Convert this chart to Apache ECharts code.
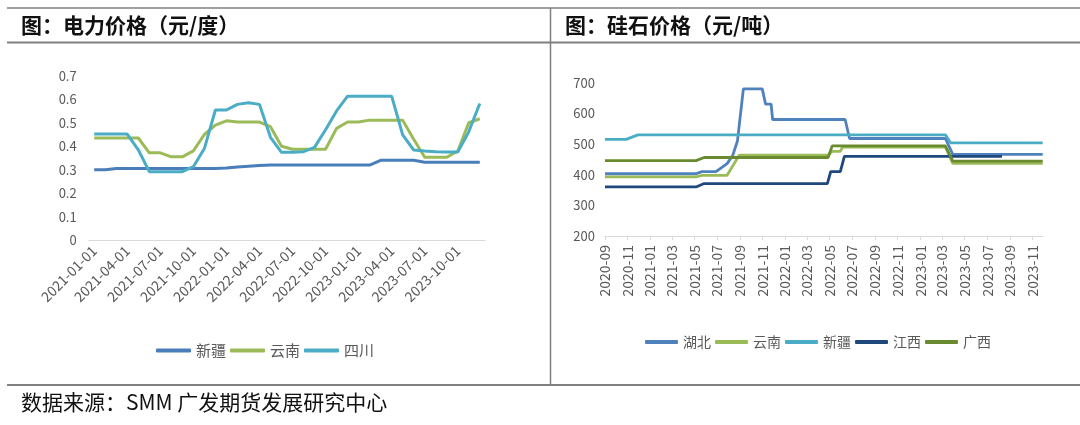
<!DOCTYPE html>
<html><head><meta charset="utf-8">
<script src="https://cdn.jsdelivr.net/npm/echarts@6/dist/echarts.min.js"></script>
<style>html,body{margin:0;padding:0;background:#fff}#c{width:1080px;height:425px}</style>
</head><body><div id="c"></div>
<script>
// ---------- Left chart: 电力价格（元/度）, monthly 2021-01 .. 2023-12 ----------
const elecMonths = [];
for (let y = 2021; y <= 2023; y++) for (let m = 1; m <= 12; m++) elecMonths.push(y + '-' + String(m).padStart(2, '0') + '-01');
const elecXinjiang = [0.300,0.300,0.305,0.305,0.305,0.305,0.305,0.305,0.305,0.305,0.305,0.305,0.307,0.312,0.315,0.318,0.320,0.320,0.320,0.320,0.320,0.320,0.320,0.320,0.320,0.320,0.340,0.340,0.340,0.340,0.332,0.332,0.332,0.332,0.332,0.332];
const elecYunnan   = [0.435,0.435,0.435,0.435,0.435,0.372,0.372,0.355,0.355,0.380,0.450,0.490,0.508,0.503,0.503,0.503,0.483,0.400,0.387,0.387,0.387,0.387,0.476,0.503,0.503,0.511,0.511,0.511,0.511,0.430,0.353,0.353,0.353,0.380,0.500,0.517];
const elecSichuan  = [0.452,0.452,0.452,0.452,0.385,0.292,0.292,0.292,0.292,0.313,0.390,0.554,0.554,0.578,0.585,0.578,0.438,0.374,0.374,0.377,0.395,0.470,0.550,0.613,0.613,0.613,0.613,0.613,0.448,0.384,0.380,0.377,0.376,0.375,0.462,0.582];

// ---------- Right chart: 硅石价格（元/吨）, change points ----------
const silicaHubei = [['2020-09-01',403],['2021-05-05',403],['2021-05-21',410],['2021-06-28',410],['2021-07-28',436],['2021-08-12',462],['2021-08-25',510],['2021-09-10',680],['2021-10-31',680],['2021-11-09',630],['2021-11-24',630],['2021-11-28',580],['2022-06-12',580],['2022-06-24',518],['2023-03-10',518],['2023-03-30',466],['2023-11-28',466]];
const silicaYunnan = [['2020-09-01',393],['2021-05-05',393],['2021-05-21',398],['2021-07-28',398],['2021-08-30',464],['2022-04-27',464],['2022-05-08',476],['2022-05-30',476],['2022-06-05',490],['2023-03-10',490],['2023-03-30',437],['2023-11-28',437]];
const silicaXinjiang = [['2020-09-01',515],['2020-10-28',515],['2020-11-29',530],['2023-03-10',530],['2023-03-24',504],['2023-11-28',504]];
const silicaJiangxi = [['2020-09-01',360],['2021-05-05',360],['2021-05-27',371],['2022-04-25',371],['2022-05-04',410],['2022-05-30',410],['2022-06-10',460],['2023-08-10',460]];
const silicaGuangxi = [['2020-09-01',446],['2021-05-05',446],['2021-05-27',456],['2022-04-27',456],['2022-05-08',494],['2023-03-10',494],['2023-03-30',444],['2023-11-28',444]];

const FONT = '"Noto Sans CJK SC", "Noto Sans", sans-serif';
const GRAY = '#595959';
const AXISC = '#d9d9d9';

const chart = echarts.init(document.getElementById('c'), null, {renderer: 'canvas'});

function hline(x1, x2, y, w) {
  return {type: 'line', shape: {x1: x1, y1: y, x2: x2, y2: y}, style: {stroke: '#808080', lineWidth: w}, silent: true};
}
function label(x, y, text, size) {
  return {type: 'text', left: x, top: y, style: {text: text, fontSize: size, fontWeight: 'bold', fontFamily: FONT, fill: '#111'}, silent: true};
}

const DAY = 86400000;

chart.setOption({
  animation: false,
  backgroundColor: '#fff',
  textStyle: {fontFamily: FONT},
  graphic: [
    hline(7, 1080, 8, 1.5),
    hline(7, 1080, 42.5, 2),
    hline(7, 1080, 385, 2),
    {type: 'line', shape: {x1: 550.5, y1: 8, x2: 550.5, y2: 385}, style: {stroke: '#808080', lineWidth: 1.5}, silent: true},
    label(21, 15, '图：电力价格（元/度）', 21),
    label(565, 15, '图：硅石价格（元/吨）', 21),
    {type: 'text', left: 21, top: 392, style: {text: '数据来源：SMM 广发期货发展研究中心', fontSize: 21, fontFamily: FONT, fill: '#111'}, silent: true}
  ],
  legend: [
    {
      data: ['新疆', '云南', '四川'], left: 151, top: 338,
      icon: 'roundRect', itemWidth: 35, itemHeight: 4, itemGap: 4,
      textStyle: {fontSize: 15, color: GRAY, fontFamily: FONT}
    },
    {
      data: ['湖北', '云南 ', '新疆 ', '江西', '广西'], left: 640, top: 330,
      icon: 'roundRect', itemWidth: 33, itemHeight: 4, itemGap: 4,
      textStyle: {fontSize: 14, color: GRAY, fontFamily: FONT},
      formatter: function (n) { return n.trim(); }
    }
  ],
  grid: [
    {left: 88.7, top: 75.7, width: 396.6, height: 164.6},
    {left: 605, top: 82.7, width: 437.7, height: 153.3}
  ],
  xAxis: [
    {
      type: 'category', gridIndex: 0, data: elecMonths, boundaryGap: true,
      axisLine: {lineStyle: {color: AXISC}},
      axisTick: {interval: 2, length: 5, lineStyle: {color: AXISC}},
      axisLabel: {interval: 2, rotate: 45, fontSize: 14, color: GRAY, margin: 8}
    },
    {
      type: 'time', gridIndex: 1,
      min: +new Date(2020, 8, 1), max: +new Date(2023, 10, 28),
      minInterval: 62 * DAY, maxInterval: 62 * DAY,
      axisLine: {lineStyle: {color: AXISC}},
      axisTick: {length: 4, lineStyle: {color: AXISC}},
      splitLine: {show: false},
      axisLabel: {
        rotate: 90, fontSize: 14, color: GRAY, margin: 9, showMaxLabel: false,
        formatter: function (v) { const d = new Date(v); return d.getFullYear() + '-' + String(d.getMonth() + 1).padStart(2, '0'); }
      }
    }
  ],
  yAxis: [
    {
      type: 'value', gridIndex: 0, min: 0, max: 0.7, interval: 0.1,
      axisLine: {show: false}, axisTick: {show: false}, splitLine: {show: false},
      axisLabel: {fontSize: 13, color: GRAY, margin: 12}
    },
    {
      type: 'value', gridIndex: 1, min: 200, max: 700, interval: 100,
      axisLine: {show: false}, axisTick: {show: false}, splitLine: {show: false},
      axisLabel: {fontSize: 13, color: GRAY, margin: 10}
    }
  ],
  series: [
    {name: '新疆', type: 'line', xAxisIndex: 0, yAxisIndex: 0, data: elecXinjiang, showSymbol: false, color: '#4a7ebb', lineStyle: {width: 3}},
    {name: '云南', type: 'line', xAxisIndex: 0, yAxisIndex: 0, data: elecYunnan, showSymbol: false, color: '#9bbb59', lineStyle: {width: 3}},
    {name: '四川', type: 'line', xAxisIndex: 0, yAxisIndex: 0, data: elecSichuan, showSymbol: false, color: '#4bacc6', lineStyle: {width: 3}},
    {name: '湖北', type: 'line', xAxisIndex: 1, yAxisIndex: 1, data: silicaHubei, showSymbol: false, color: '#4f81bd', lineStyle: {width: 2.8}},
    {name: '云南 ', type: 'line', xAxisIndex: 1, yAxisIndex: 1, data: silicaYunnan, showSymbol: false, color: '#9bbb59', lineStyle: {width: 2.8}},
    {name: '新疆 ', type: 'line', xAxisIndex: 1, yAxisIndex: 1, data: silicaXinjiang, showSymbol: false, color: '#4bacc6', lineStyle: {width: 2.8}},
    {name: '江西', type: 'line', xAxisIndex: 1, yAxisIndex: 1, data: silicaJiangxi, showSymbol: false, color: '#1f497d', lineStyle: {width: 2.8}},
    {name: '广西', type: 'line', xAxisIndex: 1, yAxisIndex: 1, data: silicaGuangxi, showSymbol: false, color: '#6a8a30', lineStyle: {width: 2.8}}
  ]
});
</script>
</body></html>
